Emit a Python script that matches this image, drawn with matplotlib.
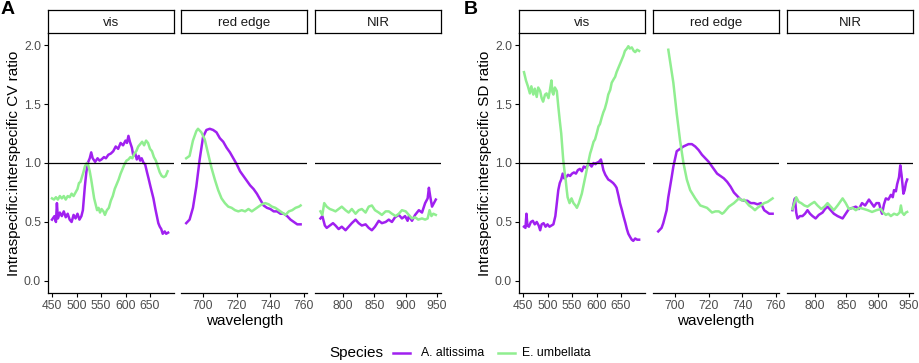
import matplotlib.pyplot as plt
from matplotlib.lines import Line2D

plt.rcParams['font.family'] = ['Liberation Sans', 'DejaVu Sans']

# bands and species
bands = ['vis', 'red edge', 'NIR']
band_ranges = [(450, 689), (690, 760), (761, 950)]
species = ['A. altissima', 'E. umbellata']
colors = ['#A020F0', '#90EE90']
band_ticks = [[450, 500, 550, 600, 650], [700, 720, 740, 760], [800, 850, 900, 950]]

# panel A: intraspecific:interspecific CV ratio
cv_alt_wl = [450, 455, 458, 460, 462, 466, 470, 474, 478, 482, 486, 490, 494, 498, 502, 506, 510, 513,
             517, 520, 523, 527, 530, 533, 538, 543, 547, 551, 556, 560, 565, 570, 575, 580, 585, 590,
             595, 600, 603, 606, 609, 613, 616, 620, 623, 627, 630, 633, 637, 640, 644, 647, 651, 654,
             657, 661, 664, 667, 670, 673, 676, 680, 683, 687,
             690, 692, 694, 696, 698, 700, 702, 704, 706, 708, 710, 712, 714, 716, 718, 720, 722, 724,
             726, 728, 730, 732, 734, 736, 738, 740, 742, 744, 746, 748, 750, 752, 754, 756, 758,
             764, 767, 771, 774, 779, 784, 788, 793, 798, 804, 809, 814, 820, 825, 830, 836, 841, 846,
             851, 857, 862, 868, 873, 878, 883, 889, 894, 899, 903, 905, 910, 915, 921, 926, 931, 935,
             937, 939, 942, 945, 948]
cv_alt = [0.52, 0.55, 0.50, 0.66, 0.53, 0.58, 0.55, 0.59, 0.54, 0.57, 0.52, 0.50, 0.56, 0.53, 0.57, 0.52,
          0.55, 0.60, 0.80, 0.92, 1.00, 1.04, 1.09, 1.04, 1.01, 1.04, 1.02, 1.03, 1.05, 1.04, 1.07, 1.08,
          1.10, 1.14, 1.12, 1.17, 1.15, 1.19, 1.17, 1.23, 1.18, 1.13, 1.06, 1.08, 1.03, 1.06, 1.02, 1.04,
          1.00, 0.99, 0.92, 0.87, 0.80, 0.75, 0.70, 0.61, 0.55, 0.49, 0.46, 0.44, 0.40, 0.42, 0.40, 0.41,
          0.49, 0.52, 0.62, 0.80, 1.03, 1.22, 1.28, 1.29, 1.28, 1.26, 1.21, 1.18, 1.13, 1.09, 1.04, 0.99,
          0.93, 0.89, 0.85, 0.81, 0.78, 0.74, 0.69, 0.64, 0.62, 0.61, 0.59, 0.59, 0.57, 0.57, 0.55, 0.52,
          0.50, 0.48, 0.48,
          0.53, 0.55, 0.47, 0.45, 0.47, 0.49, 0.47, 0.44, 0.46, 0.43, 0.46, 0.49, 0.52, 0.49, 0.47, 0.48,
          0.45, 0.43, 0.46, 0.51, 0.49, 0.50, 0.52, 0.50, 0.54, 0.56, 0.53, 0.55, 0.51, 0.55, 0.51, 0.56,
          0.60, 0.58, 0.66, 0.70, 0.79, 0.72, 0.63, 0.66, 0.69]

cv_umb_wl = [450, 454, 458, 462, 466, 470, 474, 478, 482, 486, 490, 494, 498, 502, 505, 508, 511, 514,
             517, 521, 524, 527, 530, 533, 536, 539, 542, 545, 548, 551, 555, 558, 562, 566, 570, 574,
             578, 582, 586, 590, 594, 598, 602, 606, 610, 614, 618, 622, 626, 630, 634, 638, 642, 646,
             650, 654, 658, 662, 666, 670, 674, 678, 682, 686,
             690, 692, 694, 696, 697, 699, 701, 703, 705, 707, 709, 711, 713, 715, 717, 719, 721, 723,
             725, 727, 729, 731, 733, 735, 737, 739, 741, 743, 745, 747, 749, 751, 753, 755, 757, 758,
             764, 767, 770, 774, 779, 784, 788, 793, 798, 804, 809, 814, 820, 825, 830, 836, 841, 846,
             851, 857, 862, 868, 873, 878, 884, 889, 894, 900, 905, 910, 915, 920, 926, 931, 935, 938,
             941, 944, 948]
cv_umb = [0.70, 0.69, 0.71, 0.69, 0.72, 0.70, 0.72, 0.69, 0.72, 0.71, 0.74, 0.72, 0.75, 0.78, 0.83, 0.84,
          0.88, 0.92, 0.97, 1.00, 0.98, 0.93, 0.86, 0.78, 0.70, 0.65, 0.60, 0.62, 0.58, 0.61, 0.59, 0.56,
          0.60, 0.62, 0.68, 0.72, 0.78, 0.82, 0.86, 0.91, 0.95, 0.99, 1.02, 1.03, 1.05, 1.04, 1.08, 1.10,
          1.14, 1.16, 1.18, 1.15, 1.19, 1.17, 1.12, 1.10, 1.05, 1.02, 0.97, 0.92, 0.89, 0.88, 0.89, 0.93,
          1.04, 1.06, 1.19, 1.27, 1.29, 1.26, 1.20, 1.08, 0.96, 0.86, 0.77, 0.70, 0.66, 0.63, 0.62, 0.60,
          0.59, 0.60, 0.59, 0.61, 0.59, 0.61, 0.63, 0.65, 0.66, 0.65, 0.63, 0.62, 0.60, 0.58, 0.56, 0.59,
          0.60, 0.62, 0.63, 0.64,
          0.59, 0.56, 0.66, 0.63, 0.61, 0.60, 0.59, 0.61, 0.63, 0.60, 0.58, 0.61, 0.57, 0.60, 0.61, 0.58,
          0.63, 0.64, 0.60, 0.58, 0.56, 0.59, 0.59, 0.57, 0.55, 0.57, 0.60, 0.59, 0.56, 0.53, 0.54, 0.52,
          0.53, 0.52, 0.53, 0.60, 0.55, 0.57, 0.56]

# panel B: intraspecific:interspecific SD ratio
sd_alt_wl = [452, 455, 457, 459, 462, 466, 470, 474, 478, 482, 485, 488, 492, 496, 500, 504, 508, 512,
             516, 519, 522, 525, 528, 531, 534, 538, 542, 546, 550, 554, 558, 562, 566, 570, 574, 578,
             582, 586, 590, 594, 598, 600, 605, 609, 612, 614, 618, 624, 628, 634, 638, 641, 645, 648,
             652, 655, 659, 662, 665, 669, 672, 675, 679, 683, 687,
             690, 692, 693, 695, 696, 698, 699, 701, 703, 705, 708, 710, 712, 714, 716, 718, 720, 722,
             725, 727, 729, 731, 733, 735, 737, 739, 741, 743, 745, 747, 749, 751, 753, 755, 756, 758,
             764, 766, 768, 770, 772, 776, 780, 784, 788, 792, 796, 801, 806, 812, 816, 820, 825, 830,
             836, 840, 844, 849, 854, 860, 865, 870, 875, 880, 886, 890, 894, 898, 902, 905, 907, 910,
             913, 917, 921, 924, 926, 929, 931, 934, 936, 938, 941, 943, 945, 947]
sd_alt = [0.46, 0.45, 0.57, 0.47, 0.46, 0.50, 0.51, 0.48, 0.50, 0.47, 0.43, 0.48, 0.49, 0.46, 0.48, 0.46,
          0.47, 0.48, 0.55, 0.66, 0.77, 0.83, 0.86, 0.91, 0.87, 0.88, 0.90, 0.89, 0.91, 0.92, 0.91, 0.94,
          0.95, 0.93, 0.97, 0.96, 0.98, 0.99, 0.97, 1.00, 0.99, 1.00, 1.01, 1.03, 0.98, 0.94, 0.90, 0.86,
          0.85, 0.83, 0.81, 0.79, 0.72, 0.66, 0.60, 0.55, 0.49, 0.44, 0.40, 0.37, 0.35, 0.34, 0.36, 0.35,
          0.35,
          0.42, 0.45, 0.49, 0.60, 0.71, 0.88, 0.97, 1.10, 1.12, 1.14, 1.16, 1.16, 1.14, 1.11, 1.07, 1.04,
          1.01, 0.97, 0.91, 0.89, 0.87, 0.84, 0.80, 0.75, 0.72, 0.69, 0.68, 0.68, 0.66, 0.66, 0.65, 0.66,
          0.60, 0.58, 0.57, 0.57,
          0.60, 0.66, 0.70, 0.58, 0.53, 0.55, 0.55, 0.57, 0.60, 0.57, 0.55, 0.53, 0.56, 0.58, 0.61, 0.63,
          0.60, 0.57, 0.55, 0.54, 0.53, 0.57, 0.61, 0.62, 0.63, 0.61, 0.66, 0.64, 0.69, 0.66, 0.63, 0.66,
          0.66, 0.60, 0.57, 0.65, 0.70, 0.69, 0.73, 0.71, 0.77, 0.76, 0.82, 0.88, 0.98, 0.90, 0.74, 0.77,
          0.83, 0.86]

sd_umb_wl = [452, 456, 460, 464, 467, 471, 474, 478, 481, 485, 488, 491, 495, 498, 502, 505, 508, 510,
             512, 515, 519, 522, 525, 528, 532, 535, 537, 539, 541, 545, 549, 553, 557, 560, 564, 567,
             570, 573, 577, 580, 583, 587, 590, 594, 597, 601, 604, 607, 611, 614, 617, 621, 624, 628,
             631, 635, 638, 641, 644, 648, 651, 655, 658, 662, 665, 668, 672, 676, 679, 683, 687,
             696, 697.5, 699, 701, 703, 705, 707, 709, 712, 715, 717, 719, 722, 724, 726, 728, 729, 732,
             735, 738, 740, 741, 744, 746, 747.5, 749, 751, 753, 755, 758,
             764, 767, 770, 774, 778, 783, 788, 793, 799, 804, 810, 815, 820, 825, 830, 836, 840, 844,
             849, 854, 860, 865, 871, 878, 884, 891, 898, 905, 909, 913, 917, 921, 926, 931, 935, 937,
             939, 942, 945, 947]
sd_umb = [1.77, 1.70, 1.65, 1.59, 1.65, 1.58, 1.63, 1.56, 1.64, 1.61, 1.55, 1.52, 1.58, 1.59, 1.55, 1.62,
          1.70, 1.60, 1.58, 1.64, 1.61, 1.48, 1.36, 1.25, 1.03, 0.92, 0.86, 0.78, 0.71, 0.66, 0.70, 0.66,
          0.64, 0.62, 0.66, 0.70, 0.74, 0.80, 0.88, 0.94, 1.00, 1.08, 1.12, 1.18, 1.20, 1.26, 1.31, 1.33,
          1.39, 1.43, 1.46, 1.52, 1.58, 1.62, 1.68, 1.71, 1.73, 1.77, 1.80, 1.84, 1.87, 1.91, 1.95, 1.97,
          1.99, 1.97, 1.98, 1.95, 1.94, 1.96, 1.95,
          1.96, 1.82, 1.68, 1.42, 1.19, 1.00, 0.86, 0.77, 0.70, 0.64, 0.63, 0.62, 0.58, 0.59, 0.59, 0.57,
          0.58, 0.63, 0.66, 0.70, 0.68, 0.69, 0.64, 0.62, 0.60, 0.62, 0.64, 0.66, 0.67, 0.70,
          0.61, 0.66, 0.71, 0.67, 0.66, 0.64, 0.63, 0.65, 0.67, 0.64, 0.61, 0.63, 0.66, 0.63, 0.60, 0.64,
          0.67, 0.70, 0.66, 0.61, 0.62, 0.60, 0.62, 0.61, 0.60, 0.585, 0.60, 0.61, 0.58, 0.56, 0.57, 0.55,
          0.57, 0.56, 0.58, 0.64, 0.58, 0.56, 0.58, 0.585]

W, H = 920, 363
xlims = [(441.8, 699.0), (686.9, 761.8), (755.3, 956.3)]
ylim = (-0.102, 2.102)

fig = plt.figure(figsize=(W / 100, H / 100), dpi=100)


def draw_panel(lefts, series, ylabel, letter, letter_x):
    for i, band in enumerate(bands):
        lo, hi = band_ranges[i]
        left = lefts[i] / W
        ax = fig.add_axes([left, (H - 293) / H, 126 / W, 260 / H])
        for (wl, vals), col in zip(series, colors):
            xs = [w for w in wl if lo <= w <= hi]
            ys = [v for w, v in zip(wl, vals) if lo <= w <= hi]
            ax.plot(xs, ys, color=col, lw=1.8, solid_joinstyle='round')
        ax.axhline(1, color='black', lw=0.9)
        ax.set_xlim(*xlims[i])
        ax.set_ylim(*ylim)
        ax.set_xticks(band_ticks[i])
        for s in ['top', 'right']:
            ax.spines[s].set_visible(False)
        ax.spines['bottom'].set_linewidth(0.9)
        ax.tick_params(axis='both', length=3, width=0.8, labelsize=8.7,
                       labelcolor='#4D4D4D', pad=2)
        if i == 0:
            ax.spines['left'].set_linewidth(0.9)
            ax.set_yticks([0, 0.5, 1.0, 1.5, 2.0])
            ax.set_yticklabels(['0.0', '0.5', '1.0', '1.5', '2.0'])
        else:
            ax.spines['left'].set_visible(False)
            ax.set_yticks([])
        # facet strip
        sax = fig.add_axes([left, (H - 33) / H, 126 / W, 23 / H])
        sax.set_xticks([])
        sax.set_yticks([])
        for s in sax.spines.values():
            s.set_linewidth(0.9)
        sax.text(0.5, 0.45, band, ha='center', va='center', fontsize=9.5, color='#1A1A1A')
    fig.text((lefts[0] - 34) / W, 1 - 163 / H, ylabel, rotation=90, ha='center',
             va='center', fontsize=11)
    fig.text((lefts[0] + lefts[2] + 126) / 2 / W, 1 - 321 / H, 'wavelength',
             ha='center', va='center', fontsize=11)
    fig.text(letter_x / W, 1 - 10 / H, letter, fontsize=14, fontweight='bold',
             ha='left', va='center')


draw_panel([48, 181, 315], [(cv_alt_wl, cv_alt), (cv_umb_wl, cv_umb)],
           'Intraspecific:interspecific CV ratio', 'A', 1)
draw_panel([519, 653, 787], [(sd_alt_wl, sd_alt), (sd_umb_wl, sd_umb)],
           'Intraspecific:interspecific SD ratio', 'B', 464)

# legend at the bottom
ly = 1 - 353 / H
fig.text(329 / W, ly, 'Species', fontsize=11, va='center', ha='left')
key_x = [(393, 410), (498, 515)]
text_x = [421, 522]
for (x0, x1), tx, name, col in zip(key_x, text_x, species, colors):
    fig.add_artist(Line2D([x0 / W, x1 / W], [ly, ly], transform=fig.transFigure,
                          color=col, lw=1.8))
    fig.text(tx / W, ly, name, fontsize=8.8, va='center', ha='left')

fig.savefig('out.png', dpi=100)
